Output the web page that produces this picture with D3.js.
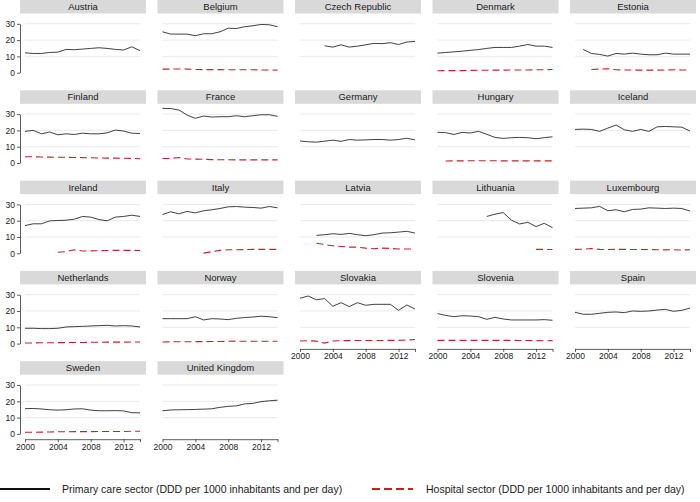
<!DOCTYPE html>
<html>
<head>
<meta charset="utf-8">
<script src="https://cdn.jsdelivr.net/npm/d3@7"></script>
<style>
	body { margin: 0; background: #fff; }
	svg { display: block; font-family: "Liberation Sans", Arial, sans-serif; }
</style>
</head>
<body>
<div id="area"></div>
<script>

/**
* DATA
* ====
* One row per country, one value per year (null = no data)
*/
var years = [2000, 2001, 2002, 2003, 2004, 2005, 2006, 2007, 2008, 2009, 2010, 2011, 2012, 2013, 2014];

var countries = ['Austria', 'Belgium', 'Czech Republic', 'Denmark', 'Estonia',
	'Finland', 'France', 'Germany', 'Hungary', 'Iceland',
	'Ireland', 'Italy', 'Latvia', 'Lithuania', 'Luxembourg',
	'Netherlands', 'Norway', 'Slovakia', 'Slovenia', 'Spain',
	'Sweden', 'United Kingdom'];

var primary = [
	[12.2, 11.8, 11.8, 12.4, 12.6, 14.3, 14.1, 14.5, 14.9, 15.3, 14.9, 14.3, 13.9, 15.9, 13.5],
	[25.1, 23.7, 23.7, 23.7, 22.7, 23.9, 23.9, 25.1, 27.3, 27.1, 28.2, 28.8, 29.6, 29.4, 28.2],
	[null, null, null, 16.5, 15.7, 17.1, 15.7, 16.3, 17.1, 18.0, 17.8, 18.4, 17.3, 18.8, 19.2],
	[12.0, 12.4, 12.8, 13.2, 13.7, 14.2, 14.9, 15.5, 15.5, 15.5, 16.3, 17.3, 16.3, 16.3, 15.5],
	[null, 14.3, 11.8, 11.2, 10.2, 11.8, 11.4, 12.0, 11.4, 11.0, 11.0, 12.0, 11.4, 11.4, 11.4],
	[19.4, 20.0, 17.9, 19.0, 17.3, 17.9, 17.5, 18.3, 17.9, 17.9, 18.5, 20.2, 19.6, 18.3, 18.1],
	[33.5, 33.4, 32.5, 29.4, 27.4, 28.8, 28.2, 28.4, 28.4, 29.0, 28.4, 29.0, 29.6, 29.6, 28.6],
	[13.5, 13.0, 12.8, 13.4, 14.0, 13.3, 14.4, 14.0, 14.2, 14.4, 14.4, 14.0, 14.4, 15.2, 14.2],
	[18.8, 18.6, 17.5, 18.8, 18.4, 19.4, 17.6, 15.7, 15.1, 15.5, 15.7, 15.5, 14.9, 15.5, 16.1],
	[20.6, 20.8, 20.6, 19.4, 21.4, 23.3, 20.4, 19.4, 20.6, 19.4, 22.2, 22.4, 22.2, 22.0, 19.6],
	[17.0, 18.1, 18.1, 19.9, 20.1, 20.3, 20.9, 22.6, 22.2, 20.7, 19.9, 22.2, 22.6, 23.4, 22.6],
	[23.8, 25.5, 24.2, 25.7, 24.8, 26.1, 26.7, 27.5, 28.5, 28.7, 28.3, 28.1, 27.7, 28.7, 27.9],
	[null, null, 11.0, 11.4, 12.0, 11.6, 12.2, 11.4, 10.8, 11.4, 12.4, 12.6, 13.0, 13.5, 12.4],
	[null, null, null, null, null, null, 22.6, 24.0, 25.0, 20.3, 18.0, 19.0, 16.4, 18.4, 15.7],
	[27.5, 27.7, 27.9, 28.8, 26.1, 26.7, 25.5, 26.9, 27.1, 27.9, 27.7, 27.5, 27.7, 27.5, 25.9],
	[9.4, 9.4, 9.2, 9.2, 9.4, 10.2, 10.4, 10.6, 10.8, 11.0, 11.2, 10.8, 11.0, 10.8, 10.2],
	[15.3, 15.3, 15.3, 15.3, 16.5, 14.5, 15.3, 15.1, 14.7, 15.5, 16.0, 16.3, 16.8, 16.5, 15.9],
	[27.8, 29.2, 26.9, 27.6, 22.9, 25.1, 22.7, 25.1, 23.5, 24.1, 24.1, 24.1, 20.4, 23.7, 21.2],
	[18.4, 17.3, 16.5, 17.1, 16.9, 16.5, 14.9, 16.1, 15.1, 14.5, 14.5, 14.5, 14.5, 14.7, 14.3],
	[19.2, 18.0, 18.0, 18.6, 19.2, 19.4, 19.0, 20.0, 19.8, 20.0, 20.6, 21.0, 19.8, 20.4, 21.8],
	[15.5, 15.6, 15.3, 14.8, 14.6, 14.8, 15.3, 15.4, 14.6, 14.2, 14.2, 14.3, 14.1, 13.0, 12.9],
	[14.2, 14.7, 14.8, 14.9, 15.0, 15.2, 15.4, 16.3, 16.9, 17.2, 18.4, 18.7, 19.8, 20.3, 20.7]
];

var hospital = [
	[null, null, null, null, null, null, null, null, null, null, null, null, null, null, null],
	[2.2, 2.2, 2.3, 2.2, 2.0, 1.9, 1.9, 1.9, 1.8, 1.8, 1.8, 1.8, 1.7, 1.7, 1.6],
	[null, null, null, null, null, null, null, null, null, null, null, null, null, null, null],
	[1.2, 1.3, 1.3, 1.3, 1.4, 1.5, 1.5, 1.6, 1.6, 1.7, 1.7, 1.7, 1.8, 1.8, 2.0],
	[null, null, 2.0, 2.2, 2.4, 1.8, 1.7, 1.6, 1.6, 1.6, 1.6, 1.7, 1.8, 1.7, 1.7],
	[3.8, 3.8, 3.7, 3.6, 3.5, 3.5, 3.4, 3.3, 3.2, 3.1, 3.0, 3.0, 2.9, 2.8, 2.6],
	[2.8, 2.8, 3.4, 2.5, 2.4, 2.3, 2.1, 2.0, 2.0, 1.9, 1.9, 1.9, 1.9, 1.9, 1.9],
	[null, null, null, null, null, null, null, null, null, null, null, null, null, null, null],
	[null, 1.2, 1.3, 1.3, 1.4, 1.4, 1.4, 1.4, 1.3, 1.3, 1.3, 1.3, 1.3, 1.3, 1.3],
	[null, null, null, null, null, null, null, null, null, null, null, null, null, null, null],
	[null, null, null, null, 0.6, 1.0, 2.2, 1.4, 1.5, 1.6, 1.7, 1.8, 1.8, 1.8, 1.7],
	[null, null, null, null, null, 0.1, 1.0, 1.8, 2.2, 2.2, 2.3, 2.4, 2.4, 2.4, 2.4],
	[null, null, 6.2, 5.4, 4.6, 4.2, 3.8, 3.8, 3.2, 2.8, 3.2, 3.0, 2.6, 2.6, 2.6],
	[null, null, null, null, null, null, null, null, null, null, null, null, 2.4, 2.4, 2.3],
	[2.4, 2.5, 2.9, 2.4, 2.3, 2.4, 2.4, 2.3, 2.3, 2.3, 2.2, 2.1, 2.2, 2.0, 2.2],
	[0.4, 0.4, 0.5, 0.5, 0.6, 0.6, 0.7, 0.7, 0.8, 0.8, 0.9, 0.9, 0.9, 1.0, 1.0],
	[1.0, 1.1, 1.1, 1.1, 1.2, 1.2, 1.3, 1.3, 1.4, 1.5, 1.4, 1.4, 1.4, 1.4, 1.4],
	[1.6, 1.8, 1.5, 0.3, 1.6, 1.8, 1.8, 1.9, 1.9, 1.9, 1.9, 2.0, 2.0, 2.2, 2.5],
	[2.0, 2.0, 2.0, 2.0, 2.0, 2.0, 2.0, 2.0, 2.0, 2.0, 1.9, 1.9, 1.8, 1.7, 1.8],
	[null, null, null, null, null, null, null, null, null, null, null, null, null, null, null],
	[1.0, 1.0, 1.1, 1.2, 1.3, 1.3, 1.4, 1.4, 1.4, 1.5, 1.5, 1.5, 1.5, 1.6, 1.6],
	[null, null, null, null, null, null, null, null, null, null, null, null, null, null, null]
];

var yTicks = [0, 10, 20, 30];
var xTicks = [2000, 2004, 2008, 2012, 2014];
var xTickLabels = ['2000', '2004', '2008', '2012', ''];

var legendLabels = ['Primary care sector (DDD per 1000 inhabitants and per day)',
	'Hospital sector (DDD per 1000 inhabitants and per day)'];


//Layout
var width = 700, height = 502;
var ncol = 5;
var colLeft = 20, colStep = 137.5, panelW = 126;
var rowTop = 0, rowStep = 90.3, stripH = 13.5;
var lineColor = '#2b2b2b', hospColor = '#c8202a', gridColor = '#e6e6e6', axisColor = '#333';

var svg = d3.select('#area').append('svg')
	.attr('width', width).attr('height', height);

//Scales are panel-local
var x = d3.scaleLinear().domain([2000, 2014]).range([5, 120]);
var y = d3.scaleLinear().domain([0, 30]).range([72.7, 23.8]);

var line = d3.line()
	.defined(function(d){ return d != null; })
	.x(function(d, i){ return x(years[i]); })
	.y(function(d){ return y(d); });

countries.forEach(function(name, k){

	var col = k % ncol, row = Math.floor(k / ncol);
	var g = svg.append('g')
		.attr('transform', 'translate(' + (colLeft + col * colStep) + ',' + (rowTop + row * rowStep) + ')');

	//strip
	g.append('rect')
		.attr('width', panelW).attr('height', stripH)
		.attr('fill', '#d9d9d9');
	g.append('text')
		.attr('x', panelW / 2).attr('y', stripH - 3.3)
		.attr('text-anchor', 'middle')
		.attr('font-size', '9.5px').attr('fill', '#1a1a1a')
		.text(name);

	//grid
	g.selectAll('.grid').data([10, 20, 30]).enter().append('line')
		.attr('x1', x(2000)).attr('x2', x(2014))
		.attr('y1', function(d){ return y(d); }).attr('y2', function(d){ return y(d); })
		.attr('stroke', gridColor).attr('stroke-width', 0.9);

	//hospital sector
	g.append('path')
		.attr('d', line(hospital[k]))
		.attr('fill', 'none').attr('stroke', hospColor)
		.attr('stroke-width', 1.1).attr('stroke-dasharray', '7,4');

	//primary care sector
	g.append('path')
		.attr('d', line(primary[k]))
		.attr('fill', 'none').attr('stroke', lineColor)
		.attr('stroke-width', 0.9);

	//y axis on first column
	if(col == 0){
		var ya = g.append('g')
			.call(d3.axisLeft(y).tickValues(yTicks).tickSize(3).tickSizeOuter(0).tickPadding(2));
		styleAxis(ya);
	}

	//x axis where nothing sits below
	if(k + ncol >= countries.length){
		var xa = g.append('g')
			.attr('transform', 'translate(0,78)')
			.call(d3.axisBottom(x).tickValues(xTicks).tickSize(3).tickSizeOuter(0).tickPadding(1.5)
				.tickFormat(function(d, i){ return xTickLabels[i]; }));
		styleAxis(xa);
	}
});

function styleAxis(a){
	a.select('.domain').attr('stroke', axisColor).attr('stroke-width', 0.8);
	a.selectAll('.tick line').attr('stroke', axisColor).attr('stroke-width', 0.8);
	a.selectAll('.tick text').attr('fill', '#1a1a1a').attr('font-size', '8.5px')
		.attr('font-family', '"Liberation Sans", Arial, sans-serif');
}

//Legend
var legY = 489;
svg.append('line')
	.attr('x1', 0).attr('x2', 50).attr('y1', legY).attr('y2', legY)
	.attr('stroke', '#111').attr('stroke-width', 2);
svg.append('text')
	.attr('x', 62).attr('y', legY + 3.8)
	.attr('font-size', '10.5px').attr('fill', '#1a1a1a')
	.text(legendLabels[0]);
svg.append('line')
	.attr('x1', 372).attr('x2', 413).attr('y1', legY).attr('y2', legY)
	.attr('stroke', '#d7191c').attr('stroke-width', 2).attr('stroke-dasharray', '8,4');
svg.append('text')
	.attr('x', 426).attr('y', legY + 3.8)
	.attr('font-size', '10.5px').attr('fill', '#1a1a1a')
	.text(legendLabels[1]);

</script>
</body>
</html>
